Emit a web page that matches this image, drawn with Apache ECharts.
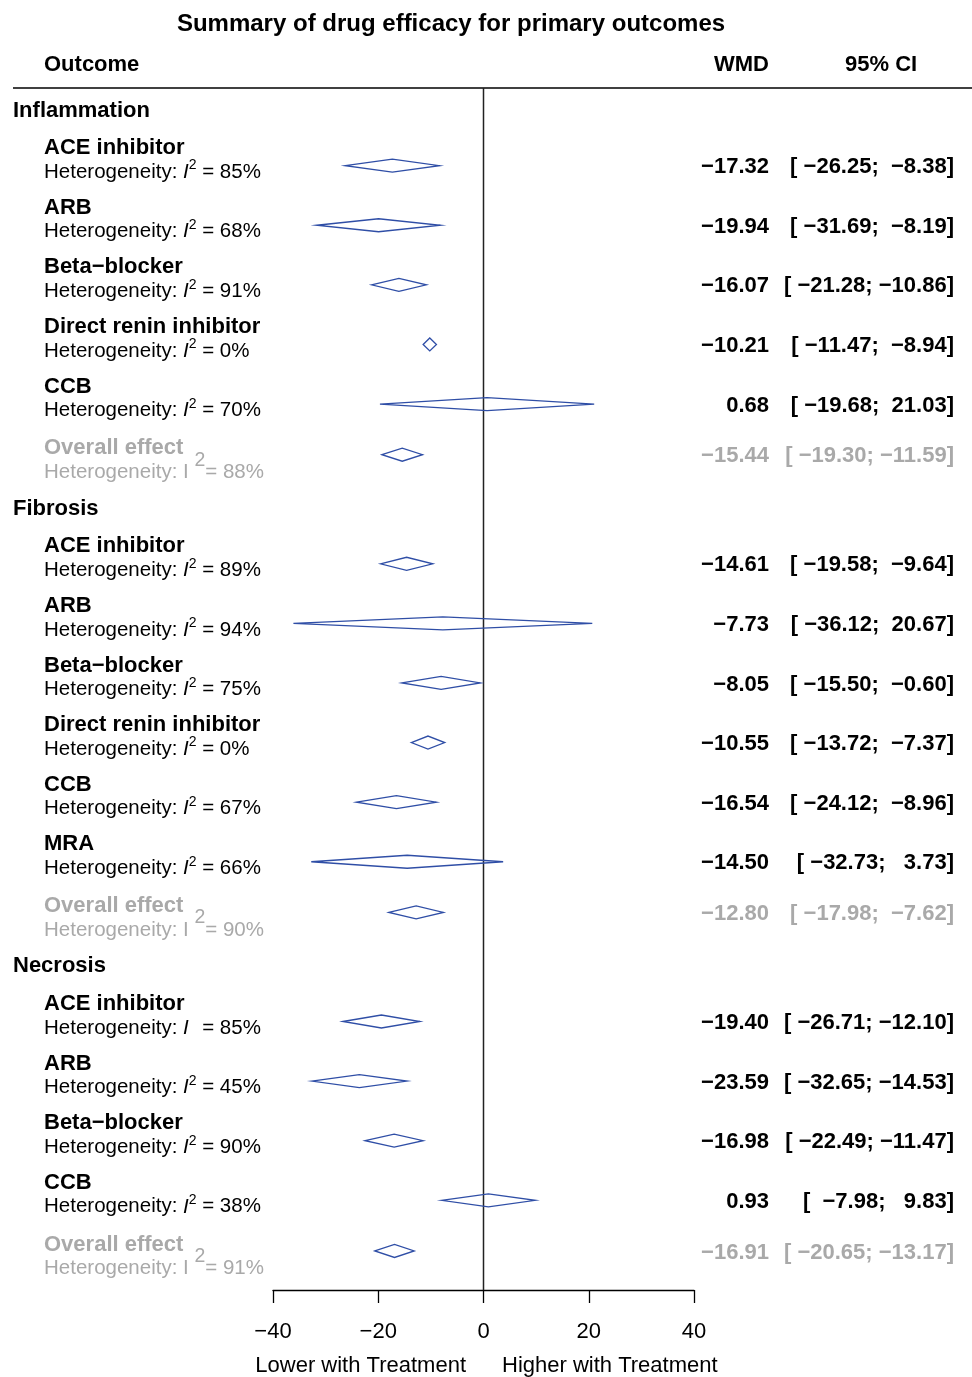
<!DOCTYPE html>
<html>
<head>
<meta charset="utf-8">
<title>Summary of drug efficacy for primary outcomes</title>
<script src="https://cdn.jsdelivr.net/npm/echarts@6/dist/echarts.min.js"></script>
<style>
  html, body { margin: 0; padding: 0; background: #ffffff; }
  #chart { width: 972px; height: 1377px; }
</style>
</head>
<body>
<div id="chart"></div>
<script>
// ---- Data: weighted mean differences with 95% CI and I² heterogeneity ----
const sectionTitles = ['Inflammation', 'Fibrosis', 'Necrosis'];

const inflammationDrugs = ['ACE inhibitor', 'ARB', 'Beta\u2212blocker', 'Direct renin inhibitor', 'CCB'];
const inflammationWMD   = [-17.32, -19.94, -16.07, -10.21, 0.68];
const inflammationLower = [-26.25, -31.69, -21.28, -11.47, -19.68];
const inflammationUpper = [-8.38, -8.19, -10.86, -8.94, 21.03];
const inflammationI2    = [85, 68, 91, 0, 70];

const fibrosisDrugs = ['ACE inhibitor', 'ARB', 'Beta\u2212blocker', 'Direct renin inhibitor', 'CCB', 'MRA'];
const fibrosisWMD   = [-14.61, -7.73, -8.05, -10.55, -16.54, -14.50];
const fibrosisLower = [-19.58, -36.12, -15.50, -13.72, -24.12, -32.73];
const fibrosisUpper = [-9.64, 20.67, -0.60, -7.37, -8.96, 3.73];
const fibrosisI2    = [89, 94, 75, 0, 67, 66];

const necrosisDrugs = ['ACE inhibitor', 'ARB', 'Beta\u2212blocker', 'CCB'];
const necrosisWMD   = [-19.40, -23.59, -16.98, 0.93];
const necrosisLower = [-26.71, -32.65, -22.49, -7.98];
const necrosisUpper = [-12.10, -14.53, -11.47, 9.83];
const necrosisI2    = [85, 45, 90, 38];
const necrosisI2Exponent = ['', '2', '2', '2'];

const overallWMD   = [-15.44, -12.80, -16.91];
const overallLower = [-19.30, -17.98, -20.65];
const overallUpper = [-11.59, -7.62, -13.17];
const overallI2    = [88, 90, 91];

const xTicks = [-40, -20, 0, 20, 40];

// ---- Assemble the rows of the forest plot (y measured in text lines) ----
const sections = [
  { drugs: inflammationDrugs, wmd: inflammationWMD, lo: inflammationLower, hi: inflammationUpper, i2: inflammationI2 },
  { drugs: fibrosisDrugs, wmd: fibrosisWMD, lo: fibrosisLower, hi: fibrosisUpper, i2: fibrosisI2 },
  { drugs: necrosisDrugs, wmd: necrosisWMD, lo: necrosisLower, hi: necrosisUpper, i2: necrosisI2, exp: necrosisI2Exponent }
];

const rows = [];
let line = 0;
sections.forEach((sec, si) => {
  if (si > 0) line += 1.76;
  rows.push({ kind: 'header', y: line, name: sectionTitles[si] });
  line += 1.9;
  sec.drugs.forEach((d, i) => {
    if (i > 0) line += 2;
    rows.push({
      kind: 'item', y: line, name: d,
      est: sec.wmd[i], lo: sec.lo[i], hi: sec.hi[i], i2: sec.i2[i],
      exp: sec.exp ? sec.exp[i] : '2'
    });
  });
  line += 1.7;
  rows.push({
    kind: 'overall', y: line, name: 'Overall effect',
    est: overallWMD[si], lo: overallLower[si], hi: overallUpper[si], i2: overallI2[si], exp: '2'
  });
});

const MINUS = '\u2212';
const fmt = v => (v < 0 ? MINUS : '') + Math.abs(v).toFixed(2);
const pad = (s, w) => ' '.repeat(Math.max(0, w - s.length)) + s;
const ciText = r => '[' + pad(fmt(r.lo), 7) + ';' + pad(fmt(r.hi), 7) + ']';

const FONT = "'Liberation Sans', Arial, Helvetica, sans-serif";
const GREY = '#a9a9a9';
const BLUE = '#2f4ea6';
const Y_MIN = -0.705, Y_MAX = 39.63;
const TXT = 1.5; // small downward nudge so text centres sit on the row lines

function hetRich(color) {
  return {
    h: { fontFamily: FONT, fontSize: 20.5, fill: color, color: color },
    i: { fontFamily: FONT, fontSize: 20.5, fontStyle: 'italic', fill: color, color: color },
    s: { fontFamily: FONT, fontSize: 14, fill: color, color: color, padding: [0, 0, 13, 0] },
    gs: { fontFamily: FONT, fontSize: 19.5, fill: color, color: color, padding: [0, 0, 24, 0] }
  };
}

function renderRow(params, api) {
  const r = rows[api.value(2)];
  const p = api.coord([0, r.y]);
  const py = p[1];
  const children = [];
  if (r.kind === 'header') {
    children.push({
      type: 'text',
      style: { x: 13, y: py + TXT, text: r.name, fontFamily: FONT, fontSize: 22, fontWeight: 'bold',
               fill: '#000', align: 'left', verticalAlign: 'middle' }
    });
    return { type: 'group', children };
  }
  const overall = r.kind === 'overall';
  const color = overall ? GREY : '#000';
  const nameDy = (overall ? -8 : -19) + TXT;
  const hetDy = (overall ? 16 : 5) + TXT;

  // diamond: left/right tips at the CI, centre at the estimate
  const left = api.coord([r.lo, r.y]);
  const mid = api.coord([r.est, r.y]);
  const right = api.coord([r.hi, r.y]);
  const hh = 6.5;
  children.push({
    type: 'polygon',
    shape: { points: [[left[0], left[1]], [mid[0], mid[1] - hh], [right[0], right[1]], [mid[0], mid[1] + hh]] },
    style: { fill: 'transparent', stroke: BLUE, lineWidth: 1.3 }
  });

  children.push({
    type: 'text',
    style: { x: 44, y: py + nameDy, text: r.name, fontFamily: FONT, fontSize: 22, fontWeight: 'bold',
             fill: color, align: 'left', verticalAlign: 'middle' }
  });

  const het = overall
    ? '{h|Heterogeneity: I }{gs|2}{h|= ' + r.i2 + '%}'
    : '{h|Heterogeneity: }{i|I}{s|' + (r.exp === '' ? '  ' : r.exp) + '}{h| = ' + r.i2 + '%}';
  children.push({
    type: 'text',
    style: { x: 44, y: py + hetDy, text: het, rich: hetRich(color), fontFamily: FONT, fontSize: 20.5,
             fill: color, align: 'left', verticalAlign: 'middle' }
  });

  children.push({
    type: 'text',
    style: { x: 769, y: py + TXT, text: fmt(r.est), fontFamily: FONT, fontSize: 22, fontWeight: 'bold',
             fill: color, align: 'right', verticalAlign: 'middle' }
  });
  children.push({
    type: 'text',
    style: { x: 954, y: py + TXT, text: ciText(r), fontFamily: FONT, fontSize: 22, fontWeight: 'bold',
             fill: color, align: 'right', verticalAlign: 'middle' }
  });
  return { type: 'group', children };
}

const chart = echarts.init(document.getElementById('chart'), null, { renderer: 'canvas' });

chart.setOption({
  animation: false,
  backgroundColor: '#ffffff',
  grid: { left: 273, right: 278, top: 88, height: 1202, containLabel: false },
  xAxis: {
    type: 'value', min: -40, max: 40, interval: 20, position: 'bottom',
    axisLine: { show: true, onZero: false, lineStyle: { color: '#000', width: 1.3 } },
    axisTick: { show: true, length: 13, lineStyle: { color: '#000', width: 1.3 } },
    axisLabel: {
      margin: 31, fontFamily: FONT, fontSize: 22, color: '#000',
      formatter: v => (v < 0 ? MINUS + Math.abs(v) : String(v)),
      customValues: xTicks
    },
    splitLine: { show: false }
  },
  yAxis: { type: 'value', min: Y_MIN, max: Y_MAX, inverse: true, show: false },
  graphic: [
    { type: 'text', style: { x: 451, y: 24.5, text: 'Summary of drug efficacy for primary outcomes',
      fontFamily: FONT, fontSize: 24, fontWeight: 'bold', fill: '#000', align: 'center', verticalAlign: 'middle' } },
    { type: 'text', style: { x: 44, y: 64.5, text: 'Outcome', fontFamily: FONT, fontSize: 22, fontWeight: 'bold',
      fill: '#000', align: 'left', verticalAlign: 'middle' } },
    { type: 'text', style: { x: 769, y: 64.5, text: 'WMD', fontFamily: FONT, fontSize: 22, fontWeight: 'bold',
      fill: '#000', align: 'right', verticalAlign: 'middle' } },
    { type: 'text', style: { x: 845, y: 64.5, text: '95% CI', fontFamily: FONT, fontSize: 22, fontWeight: 'bold',
      fill: '#000', align: 'left', verticalAlign: 'middle' } },
    { type: 'line', shape: { x1: 13, y1: 88, x2: 972, y2: 88 }, style: { stroke: '#000', lineWidth: 1.3 } },
    { type: 'text', style: { x: 466, y: 1366, text: 'Lower with Treatment', fontFamily: FONT, fontSize: 22,
      fill: '#000', align: 'right', verticalAlign: 'middle' } },
    { type: 'text', style: { x: 502, y: 1366, text: 'Higher with Treatment', fontFamily: FONT, fontSize: 22,
      fill: '#000', align: 'left', verticalAlign: 'middle' } }
  ],
  series: [
    {
      type: 'line', silent: true, symbol: 'none',
      data: [[0, Y_MIN], [0, Y_MAX]],
      lineStyle: { color: '#222', width: 1.5 }, z: 1
    },
    {
      type: 'custom', clip: false, silent: true, z: 2,
      renderItem: renderRow,
      data: rows.map((r, i) => [r.est == null ? 0 : r.est, r.y, i])
    }
  ]
});
</script>
</body>
</html>
